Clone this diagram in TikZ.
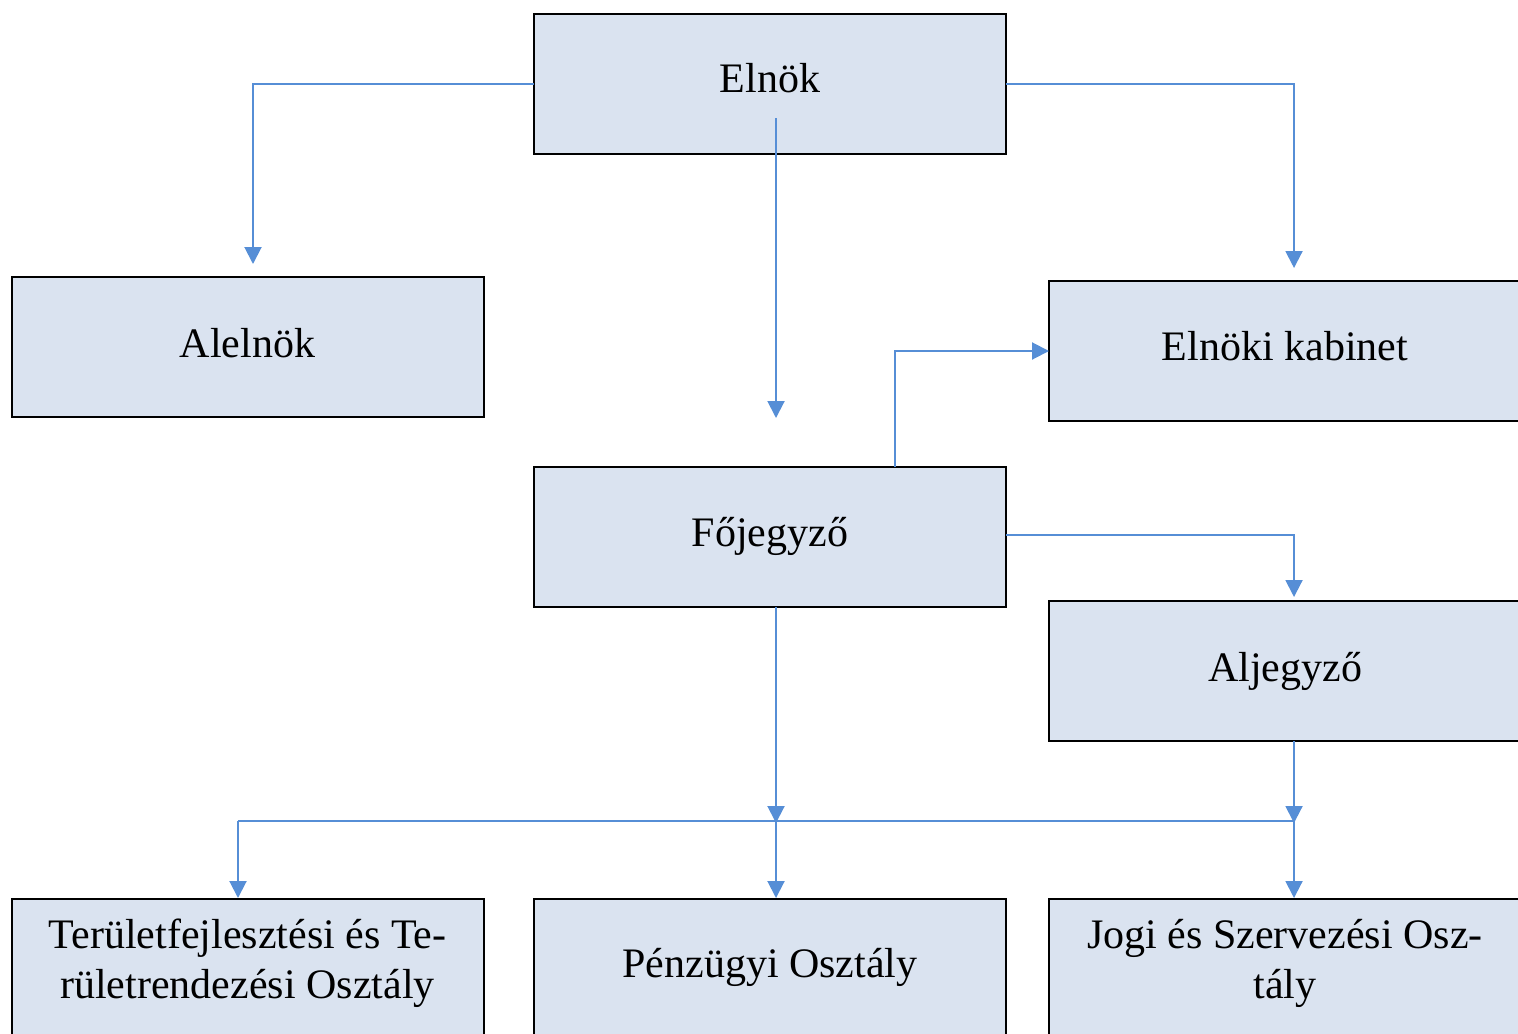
\documentclass[tikz,border=0pt]{standalone}
\usepackage{fontspec}
\setmainfont{Liberation Serif}
\usetikzlibrary{arrows.meta}
\definecolor{boxfill}{RGB}{218,227,240}
\definecolor{conn}{RGB}{86,142,214}
\newcommand{\lifted}[2]{\raisebox{#1}[\height][\depth]{\begin{tabular}{@{}c@{}}#2\end{tabular}}}
\begin{document}
\begin{tikzpicture}[x=0.5pt,y=-0.5pt,
  box/.style={draw=black,line width=1pt,fill=boxfill,minimum width=236pt,minimum height=70pt,
    inner sep=0pt,outer sep=0pt,font=\fontsize{21}{25}\selectfont,align=center},
  link/.style={draw=conn,line width=1pt,-{Triangle[length=8.5pt,width=8.5pt]}},
  plainlink/.style={draw=conn,line width=1pt}]
\useasboundingbox (0,0) rectangle (1518,1033);
% boxes
\node[box] (elnok) at (770,84) {\lifted{0.5pt}{Elnök}};
\node[box] (alelnok) at (247.5,347) {\lifted{0pt}{Alelnök}};
\node[box] (kabinet) at (1285,351) {\lifted{0.5pt}{Elnöki kabinet}};
\node[box] (fo) at (770,537) {\lifted{0.5pt}{Főjegyző}};
\node[box] (alj) at (1285,671) {\lifted{0pt}{Aljegyző}};
\node[box] (terulet) at (247.5,969) {\lifted{3pt}{Területfejlesztési és Te-\\rületrendezési Osztály}};
\node[box] (penz) at (770,969) {\lifted{1pt}{Pénzügyi Osztály}};
\node[box] (jogi) at (1285,969) {\lifted{3pt}{Jogi és Szervezési Osz-\\tály}};
% helper coordinates
\coordinate (ae) at (253,264);
\coordinate (ke) at (1294,268);
\coordinate (es) at (776,118);
\coordinate (ee) at (776,418);
\coordinate (fs) at (895,467);
\coordinate (fe) at (1006,535);
\coordinate (aje) at (1294,597);
\coordinate (fds) at (776,607);
\coordinate (jm) at (776,821);
\coordinate (jl) at (238,821);
\coordinate (jr) at (1294,821);
\coordinate (ajs) at (1294,741);
\coordinate (tl) at (238,898);
\coordinate (tm) at (776,898);
\coordinate (tr) at (1294,898);
% connectors
\draw[link] (elnok.west) -| (ae);
\draw[link] (elnok.east) -| (ke);
\draw[link] (es) -- (ee);
\draw[link] (fs) |- (kabinet.west);
\draw[link] (fe) -| (aje);
\draw[link] (fds) -- ([yshift=-1]jm);
\draw[link] (ajs) -- ([yshift=-1]jr);
\draw[plainlink] (jl) -- (jr);
\draw[link] (jl) -- (tl);
\draw[link] (jm) -- (tm);
\draw[link] (jr) -- (tr);
\end{tikzpicture}
\end{document}
